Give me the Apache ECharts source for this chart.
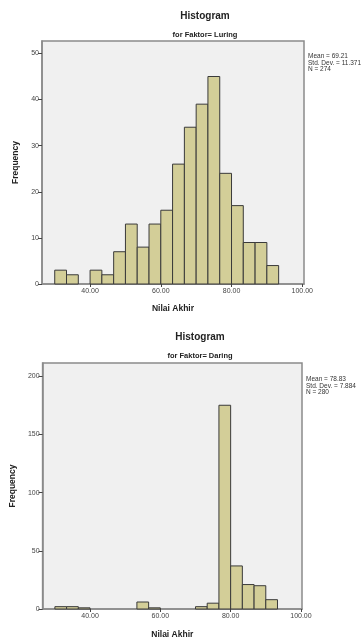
<!DOCTYPE html>
<html style="height: 100%">

<head>
  <meta charset="utf-8">
</head>

<body style="height: 100%; margin: 0; background: #fff">
  <div id="container" style="height: 100%"></div>
  <script type="text/javascript" src="https://cdn.jsdelivr.net/npm/echarts@6/dist/echarts.min.js"></script>
  <script type="text/javascript">
    // bin edges (lower bound of each bin), width 3.33
    var binStart = [30, 33.33, 36.67, 40, 43.33, 46.67, 50, 53.33, 56.67, 60, 63.33, 66.67, 70, 73.33, 76.67, 80, 83.33, 86.67, 90];
    var binEnd = [33.33, 36.67, 40, 43.33, 46.67, 50, 53.33, 56.67, 60, 63.33, 66.67, 70, 73.33, 76.67, 80, 83.33, 86.67, 90, 93.33];
    var luringCounts = [3, 2, 0, 3, 2, 7, 13, 8, 13, 16, 26, 34, 39, 45, 24, 17, 9, 9, 4];
    var daringCounts = [2, 2, 1, 0, 0, 0, 0, 6, 1, 0, 0, 0, 2, 5, 175, 37, 21, 20, 8];
    var xTicks = [40, 60, 80, 100];
    var luringYTicks = [0, 10, 20, 30, 40, 50];
    var daringYTicks = [0, 50, 100, 150, 200];
    var luringStats = ['Mean = 69.21', 'Std. Dev. = 11.371', 'N = 274'];
    var daringStats = ['Mean = 78.83', 'Std. Dev. = 7.884', 'N = 280'];

    var FONT = '"Liberation Sans", Arial, sans-serif';
    var BAR_FILL = '#d3ce98';

    function binData(counts) {
      return counts.map(function (c, i) { return [binStart[i], binEnd[i], c]; });
    }

    function renderBin(params, api) {
      var count = api.value(2);
      if (!count) return null;
      var p0 = api.coord([api.value(0), 0]);
      var p1 = api.coord([api.value(1), count]);
      return {
        type: 'rect',
        shape: { x: p0[0], y: p1[1], width: p1[0] - p0[0], height: p0[1] - p1[1] },
        style: { fill: BAR_FILL, stroke: '#3a3a3a', lineWidth: 1 }
      };
    }

    function xAxisOpt(gridIndex, min, max, gap) {
      return {
        type: 'value', gridIndex: gridIndex, min: min, max: max,
        name: 'Nilai Akhir', nameLocation: 'middle', nameGap: gap,
        nameTextStyle: { fontFamily: FONT, fontWeight: 'bold', fontSize: 8.5, color: '#222' },
        splitLine: { show: false },
        axisLine: { show: true, onZero: false, lineStyle: { color: '#8a8a8a', width: 1.5 } },
        axisTick: { show: true, length: 3, customValues: xTicks, lineStyle: { color: '#444' } },
        axisLabel: {
          customValues: xTicks, fontFamily: FONT, fontSize: 7, color: '#444', margin: 4,
          formatter: function (v) { return v.toFixed(2); }
        }
      };
    }

    function yAxisOpt(gridIndex, max, ticks, gap) {
      return {
        type: 'value', gridIndex: gridIndex, min: 0, max: max,
        name: 'Frequency', nameLocation: 'middle', nameGap: gap, nameRotate: 90,
        nameTextStyle: { fontFamily: FONT, fontWeight: 'bold', fontSize: 8.5, color: '#222' },
        splitLine: { show: false },
        axisLine: { show: true, lineStyle: { color: '#8a8a8a', width: 1.5 } },
        axisTick: { show: true, length: 4, customValues: ticks, lineStyle: { color: '#444' } },
        axisLabel: { customValues: ticks, fontFamily: FONT, fontSize: 7, color: '#444', margin: 3 }
      };
    }

    function statsTitle(lines, left, top) {
      return {
        text: lines.join('\n'), left: left, top: top, padding: 0,
        textStyle: { fontFamily: FONT, fontSize: 6.5, fontWeight: 'normal', color: '#333', lineHeight: 6.5 }
      };
    }

    function headTitle(text, x, top, size) {
      return {
        text: text, left: x, top: top, textAlign: 'center', padding: 0,
        textStyle: { fontFamily: FONT, fontSize: size, fontWeight: 'bold', color: '#222' }
      };
    }

    var myChart = echarts.init(document.getElementById('container'), null, { renderer: 'canvas' });
    var option = {
      animation: false,
      title: [
        headTitle('Histogram', 205, 11, 10),
        headTitle('for Faktor= Luring', 205, 31, 7.5),
        statsTitle(luringStats, 308, 53),
        headTitle('Histogram', 200, 332, 10),
        headTitle('for Faktor= Daring', 200, 352, 7.5),
        statsTitle(daringStats, 306, 376)
      ],
      grid: [
        { left: 42, top: 41, width: 262, height: 243, show: true, backgroundColor: '#f0f0f0', borderColor: '#8a8a8a', borderWidth: 1.5 },
        { left: 39, top: 363, width: 263, height: 248, show: true, backgroundColor: '#f0f0f0', borderColor: '#8a8a8a', borderWidth: 1.5 }
      ],
      xAxis: [
        xAxisOpt(0, 26.4, 100.5, 20),
        xAxisOpt(1, 26.5, 100.3, 21)
      ],
      yAxis: [
        yAxisOpt(0, 52.7, luringYTicks, 17),
        yAxisOpt(1, 211.3, daringYTicks, 22)
      ],
      series: [
        { type: 'custom', xAxisIndex: 0, yAxisIndex: 0, renderItem: renderBin, encode: { x: [0, 1], y: 2 }, data: binData(luringCounts) },
        { type: 'custom', xAxisIndex: 1, yAxisIndex: 1, renderItem: renderBin, encode: { x: [0, 1], y: 2 }, data: binData(daringCounts) }
      ]
    };
    myChart.setOption(option);
  </script>
</body>

</html>
